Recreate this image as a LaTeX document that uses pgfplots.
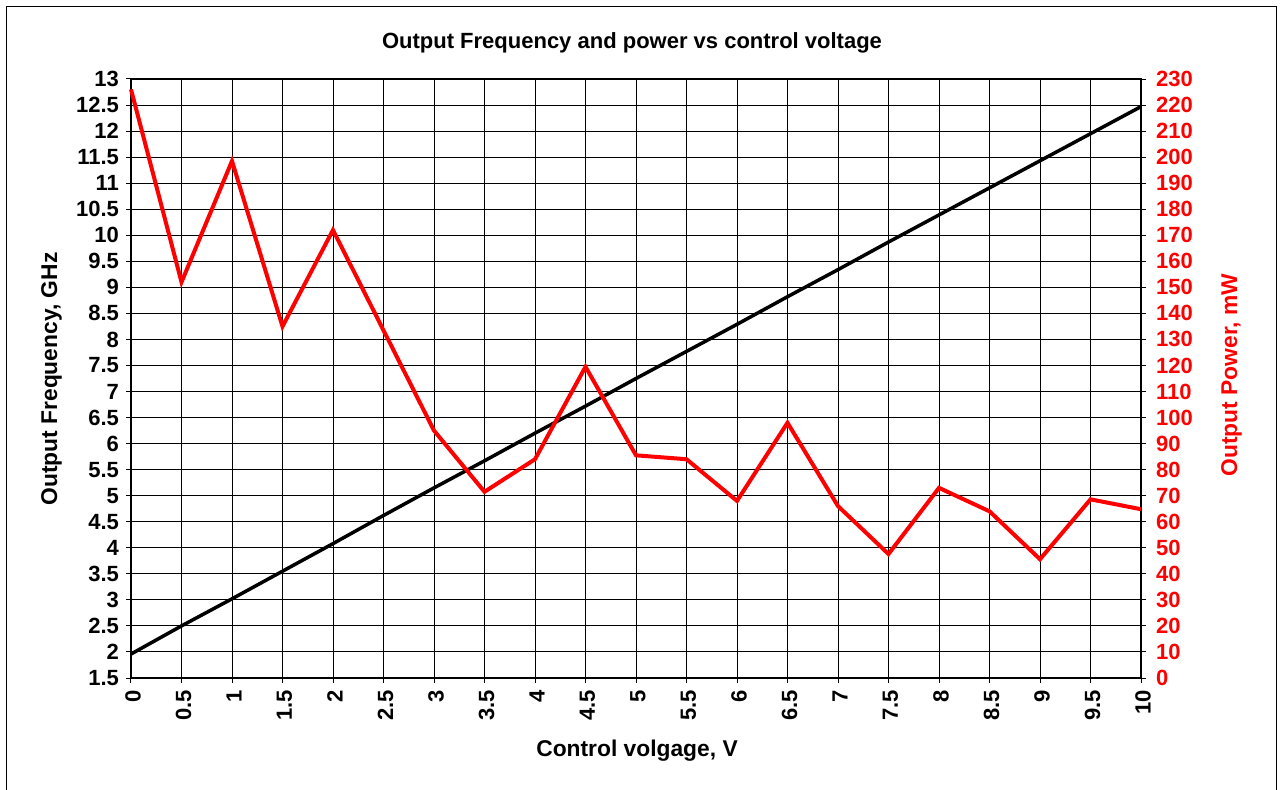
\documentclass[border=0pt]{standalone}
\usepackage{fontspec}
\setmainfont{Liberation Sans}
\usepackage{pgfplots}
\pgfplotsset{compat=1.18}
\definecolor{pred}{RGB}{255,0,0}
\begin{document}
\begin{tikzpicture}[x=1pt,y=1pt]
\useasboundingbox (0,0) rectangle (640,394.5);
\draw[line width=0.6pt] (3.25,-2) -- (3.25,391.2) -- (638.4,391.2) -- (638.4,-2);
\node[font=\bfseries\fontsize{11}{13}\selectfont] at (316,373) {Output Frequency and power vs control voltage};
\node[font=\bfseries\fontsize{11.4}{13}\selectfont, anchor=base] at (318.5,16.5) {Control volgage, V};
\node[font=\bfseries\fontsize{11.4}{13}\selectfont, anchor=base, rotate=90] at (28.5,205) {Output Frequency, GHz};
\node[font=\bfseries\fontsize{11.4}{13}\selectfont, anchor=base, rotate=90, text=pred] at (618.5,207) {Output Power, mW};
\begin{axis}[
  at={(65.5pt,55.5pt)}, anchor=south west,
  width=505pt, height=299.5pt, scale only axis,
  xmin=0, xmax=10, ymin=1.5, ymax=13,
  xtick={0,0.5,1,1.5,2,2.5,3,3.5,4,4.5,5,5.5,6,6.5,7,7.5,8,8.5,9,9.5,10},
  ytick={1.5,2,2.5,3,3.5,4,4.5,5,5.5,6,6.5,7,7.5,8,8.5,9,9.5,10,10.5,11,11.5,12,12.5,13},
  xtick pos=bottom, ytick pos=left,
  tick align=outside, major tick length=2.5pt,
  grid=major, major grid style={black, line width=0.5pt},
  axis line style={black, line width=0.6pt},
  tick style={black, line width=0.5pt},
  /pgf/number format/assume math mode=true,
  ticklabel style={font=\bfseries\fontsize{11}{13}\selectfont},
  xticklabel style={rotate=90, anchor=east, yshift=-1pt},
  clip=false,
]
\addplot[black, line width=1.75pt] coordinates {
(0,1.96) (0.5,2.5) (1,3.02) (1.5,3.55) (2,4.08) (2.5,4.62) (3,5.15) (3.5,5.67) (4,6.2) (4.5,6.72) (5,7.25) (5.5,7.77) (6,8.29) (6.5,8.82) (7,9.34) (7.5,9.87) (8,10.39) (8.5,10.91) (9,11.43) (9.5,11.95) (10,12.47)
};
\end{axis}
\begin{axis}[
  at={(65.5pt,55.5pt)}, anchor=south west,
  width=505pt, height=299.5pt, scale only axis,
  xmin=0, xmax=10, ymin=0, ymax=230,
  axis x line=none, axis y line*=right,
  ytick={0,10,20,30,40,50,60,70,80,90,100,110,120,130,140,150,160,170,180,190,200,210,220,230},
  tick align=outside, major tick length=2.5pt,
  axis line style={black, line width=0.6pt},
  tick style={black, line width=0.5pt},
  /pgf/number format/assume math mode=true,
  yticklabel style={font=\bfseries\fontsize{11}{13}\selectfont, text=pred, xshift=1.5pt},
  clip=false,
]
\addplot[pred, line width=2pt, line join=miter] coordinates {
(0,226) (0.5,152) (1,198.5) (1.5,135) (2,172) (2.5,133.5) (3,95) (3.5,71.5) (4,84) (4.5,119.5) (5,85.5) (5.5,84) (6,68) (6.5,98) (7,66) (7.5,47.6) (8,73) (8.5,64) (9,45.6) (9.5,68.6) (10,64.8)
};
\end{axis}
\end{tikzpicture}
\end{document}
